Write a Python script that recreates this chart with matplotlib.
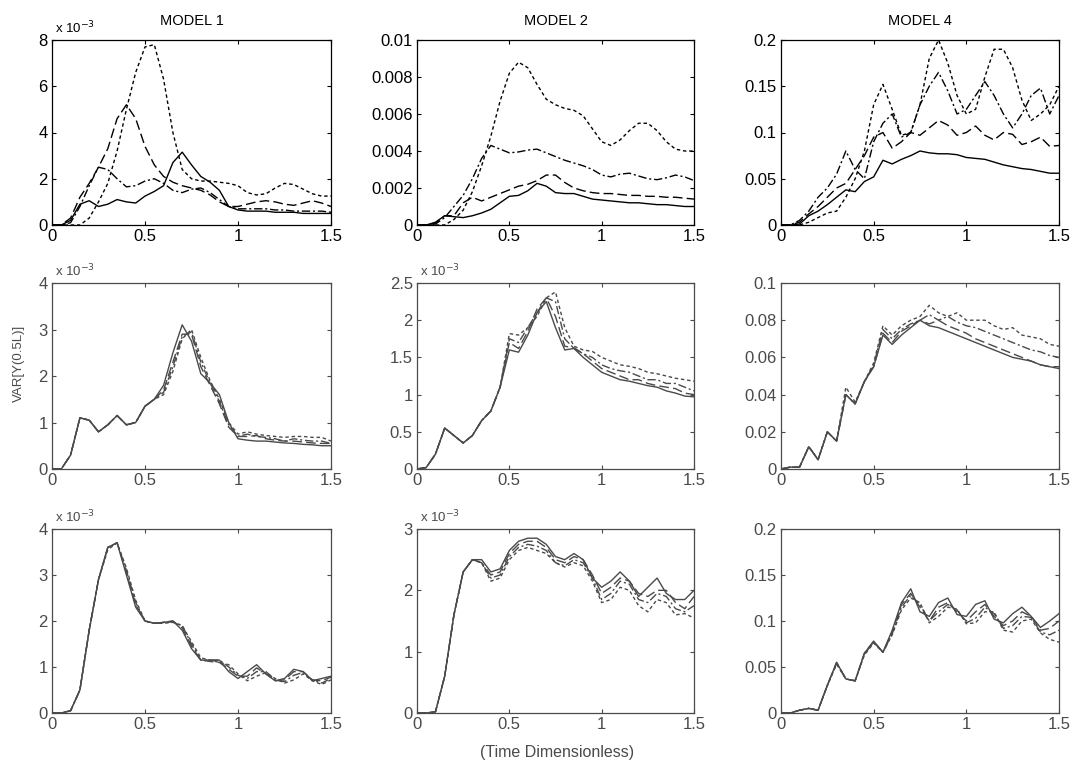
import matplotlib
matplotlib.use("Agg")
import matplotlib.pyplot as plt
from matplotlib.ticker import FixedLocator

plt.rcParams['font.family'] = ['Liberation Sans', 'DejaVu Sans']

# sample times (dimensionless)
T = [0.00, 0.05, 0.10, 0.15, 0.20, 0.25, 0.30, 0.35, 0.40, 0.45, 0.50,
     0.55, 0.60, 0.65, 0.70, 0.75, 0.80, 0.85, 0.90, 0.95, 1.00,
     1.05, 1.10, 1.15, 1.20, 1.25, 1.30, 1.35, 1.40, 1.45, 1.50]

# ---- top row (x 1e-3 for MODEL 1 and MODEL 2) ----
m1_top_solid = [0, 0, 0.2, 0.9, 1.05, 0.8, 0.9, 1.1, 1.0, 0.95, 1.25,
                1.45, 1.7, 2.7, 3.15, 2.6, 2.1, 1.85, 1.5, 0.8, 0.65,
                0.6, 0.6, 0.6, 0.55, 0.55, 0.55, 0.5, 0.5, 0.5, 0.5]
m1_top_dash = [0, 0, 0.3, 1.2, 1.8, 2.5, 3.3, 4.6, 5.2, 4.6, 3.4,
               2.6, 2.1, 1.85, 1.7, 1.6, 1.5, 1.3, 1.0, 0.8, 0.8,
               0.9, 1.0, 1.05, 1.0, 0.9, 0.85, 0.95, 1.05, 0.95, 0.8]
m1_top_dashdot = [0, 0, 0.1, 0.8, 1.7, 2.5, 2.4, 2.0, 1.65, 1.7, 1.9,
                  2.0, 1.8, 1.5, 1.4, 1.55, 1.6, 1.4, 1.1, 0.8, 0.7,
                  0.7, 0.7, 0.7, 0.65, 0.65, 0.6, 0.6, 0.6, 0.6, 0.55]
m1_top_dot = [0, 0, 0, 0, 0.3, 1.0, 1.8, 3.2, 5.0, 6.6, 7.7,
              7.8, 6.3, 4.0, 2.4, 2.0, 1.9, 1.9, 1.85, 1.8, 1.7,
              1.4, 1.3, 1.35, 1.6, 1.8, 1.75, 1.55, 1.35, 1.25, 1.25]

m2_top_solid = [0, 0, 0.15, 0.5, 0.45, 0.4, 0.5, 0.65, 0.85, 1.2, 1.55,
                1.6, 1.85, 2.25, 2.1, 1.75, 1.7, 1.7, 1.55, 1.4, 1.35,
                1.3, 1.25, 1.2, 1.2, 1.15, 1.1, 1.1, 1.05, 1.0, 1.0]
m2_top_dash = [0, 0, 0.1, 0.5, 0.5, 1.2, 1.5, 1.3, 1.5, 1.7, 1.9,
               2.1, 2.2, 2.4, 2.7, 2.7, 2.3, 2.0, 1.85, 1.75, 1.7,
               1.7, 1.65, 1.6, 1.6, 1.55, 1.55, 1.5, 1.5, 1.45, 1.4]
m2_top_dashdot = [0, 0, 0.05, 0.4, 1.0, 1.6, 2.5, 3.6, 4.3, 4.1, 3.9,
                  3.95, 4.05, 4.1, 3.9, 3.7, 3.5, 3.35, 3.2, 3.0, 2.7,
                  2.6, 2.75, 2.8, 2.65, 2.5, 2.45, 2.55, 2.7, 2.6, 2.4]
m2_top_dot = [0, 0, 0, 0, 0.3, 0.8, 1.8, 3.2, 4.8, 6.7, 8.2,
              8.8, 8.5, 7.6, 6.8, 6.5, 6.3, 6.2, 5.9, 5.2, 4.5,
              4.3, 4.6, 5.1, 5.5, 5.5, 5.1, 4.5, 4.1, 4.0, 4.0]

m4_top_solid = [0, 0, 0.001, 0.01, 0.015, 0.022, 0.03, 0.038, 0.036, 0.047, 0.052,
                0.07, 0.066, 0.071, 0.075, 0.08, 0.078, 0.077, 0.077, 0.076, 0.073,
                0.072, 0.071, 0.068, 0.065, 0.063, 0.061, 0.06, 0.058, 0.056, 0.056]
m4_top_dash = [0, 0, 0.003, 0.012, 0.02, 0.03, 0.04, 0.045, 0.06, 0.075, 0.095,
               0.1, 0.083, 0.09, 0.1, 0.097, 0.105, 0.113, 0.108, 0.097, 0.1,
               0.107, 0.097, 0.092, 0.1, 0.098, 0.087, 0.09, 0.095, 0.085, 0.086]
m4_top_dashdot = [0, 0, 0.005, 0.015, 0.03, 0.04, 0.055, 0.08, 0.06, 0.05, 0.09,
                  0.11, 0.12, 0.095, 0.1, 0.13, 0.15, 0.165, 0.145, 0.12, 0.125,
                  0.14, 0.155, 0.14, 0.12, 0.105, 0.12, 0.14, 0.148, 0.12, 0.14]
m4_top_dot = [0, 0, 0, 0.003, 0.008, 0.013, 0.015, 0.03, 0.05, 0.08, 0.13,
              0.152, 0.125, 0.097, 0.1, 0.13, 0.18, 0.2, 0.175, 0.14, 0.12,
              0.125, 0.16, 0.19, 0.19, 0.17, 0.135, 0.113, 0.12, 0.13, 0.15]

# ---- middle row ----
m1_mid_solid = [0, 0, 0.3, 1.1, 1.05, 0.8, 0.95, 1.15, 0.95, 1.0, 1.35,
                1.5, 1.8, 2.5, 3.1, 2.75, 2.05, 1.85, 1.6, 1.0, 0.65,
                0.62, 0.6, 0.6, 0.58, 0.56, 0.55, 0.53, 0.52, 0.5, 0.5]
m1_mid_dash = [0, 0, 0.3, 1.1, 1.05, 0.8, 0.95, 1.15, 0.95, 1.0, 1.35,
               1.5, 1.7, 2.3, 2.9, 2.9, 2.2, 1.8, 1.4, 0.9, 0.7,
               0.7, 0.72, 0.65, 0.62, 0.6, 0.6, 0.58, 0.56, 0.55, 0.55]
m1_mid_dashdot = [0, 0, 0.3, 1.1, 1.05, 0.8, 0.95, 1.15, 0.95, 1.0, 1.35,
                  1.5, 1.65, 2.2, 2.85, 2.95, 2.3, 1.85, 1.45, 0.95, 0.7,
                  0.75, 0.7, 0.68, 0.65, 0.6, 0.65, 0.62, 0.6, 0.6, 0.55]
m1_mid_dot = [0, 0, 0.3, 1.1, 1.05, 0.8, 0.95, 1.15, 0.95, 1.0, 1.35,
              1.5, 1.6, 2.1, 2.8, 3.0, 2.4, 1.9, 1.5, 1.0, 0.75,
              0.8, 0.75, 0.72, 0.7, 0.68, 0.7, 0.7, 0.68, 0.68, 0.6]

m2_mid_solid = [0, 0.02, 0.2, 0.55, 0.45, 0.35, 0.45, 0.65, 0.78, 1.1, 1.6,
                1.57, 1.8, 2.1, 2.25, 1.9, 1.6, 1.62, 1.5, 1.4, 1.3,
                1.25, 1.2, 1.18, 1.15, 1.12, 1.1, 1.05, 1.02, 0.98, 0.97]
m2_mid_dash = [0, 0.02, 0.2, 0.55, 0.45, 0.35, 0.45, 0.65, 0.78, 1.1, 1.7,
               1.62, 1.85, 2.15, 2.3, 2.05, 1.65, 1.63, 1.55, 1.45, 1.35,
               1.3, 1.25, 1.2, 1.2, 1.15, 1.12, 1.1, 1.08, 1.02, 1.0]
m2_mid_dashdot = [0, 0.02, 0.2, 0.55, 0.45, 0.35, 0.45, 0.65, 0.78, 1.1, 1.75,
                  1.7, 1.9, 2.1, 2.3, 2.25, 1.75, 1.62, 1.55, 1.5, 1.4,
                  1.35, 1.32, 1.3, 1.25, 1.2, 1.2, 1.15, 1.15, 1.1, 1.05]
m2_mid_dot = [0, 0.02, 0.2, 0.55, 0.45, 0.35, 0.45, 0.65, 0.78, 1.1, 1.82,
              1.8, 1.9, 2.05, 2.3, 2.38, 1.9, 1.65, 1.6, 1.58, 1.5,
              1.45, 1.4, 1.38, 1.35, 1.3, 1.28, 1.25, 1.22, 1.2, 1.18]

m4_mid_solid = [0, 0.001, 0.001, 0.012, 0.005, 0.02, 0.015, 0.04, 0.035, 0.047, 0.055,
                0.072, 0.067, 0.072, 0.076, 0.08, 0.077, 0.076, 0.074, 0.072, 0.07,
                0.068, 0.066, 0.064, 0.062, 0.06, 0.059, 0.058, 0.056, 0.055, 0.054]
m4_mid_dash = [0, 0.001, 0.001, 0.012, 0.005, 0.02, 0.015, 0.04, 0.035, 0.047, 0.055,
               0.073, 0.068, 0.074, 0.077, 0.08, 0.078, 0.08, 0.077, 0.075, 0.073,
               0.07, 0.068, 0.066, 0.064, 0.062, 0.06, 0.058, 0.056, 0.055, 0.055]
m4_mid_dashdot = [0, 0.001, 0.001, 0.012, 0.005, 0.02, 0.015, 0.04, 0.035, 0.047, 0.056,
                  0.075, 0.07, 0.075, 0.078, 0.08, 0.083, 0.08, 0.082, 0.079, 0.077,
                  0.076, 0.074, 0.072, 0.07, 0.068, 0.066, 0.064, 0.063, 0.061, 0.06]
m4_mid_dot = [0, 0.001, 0.001, 0.012, 0.005, 0.02, 0.015, 0.044, 0.036, 0.047, 0.057,
              0.077, 0.072, 0.077, 0.08, 0.082, 0.088, 0.084, 0.082, 0.084, 0.08,
              0.08, 0.08, 0.077, 0.075, 0.076, 0.072, 0.071, 0.07, 0.067, 0.066]

# ---- bottom row ----
m1_bot_solid = [0, 0, 0.05, 0.5, 1.8, 2.9, 3.6, 3.7, 3.0, 2.3, 2.0,
                1.95, 1.97, 2.0, 1.8, 1.4, 1.15, 1.15, 1.15, 0.9, 0.75,
                0.9, 1.05, 0.85, 0.7, 0.75, 0.95, 0.9, 0.7, 0.75, 0.8]
m1_bot_dash = [0, 0, 0.05, 0.5, 1.8, 2.9, 3.6, 3.7, 3.05, 2.35, 2.0,
               1.95, 1.97, 2.0, 1.85, 1.45, 1.15, 1.12, 1.1, 0.95, 0.8,
               0.8, 0.98, 0.85, 0.7, 0.72, 0.9, 0.9, 0.72, 0.7, 0.78]
m1_bot_dashdot = [0, 0, 0.05, 0.5, 1.8, 2.9, 3.6, 3.7, 3.1, 2.4, 2.0,
                  1.95, 1.97, 1.98, 1.9, 1.5, 1.15, 1.15, 1.15, 1.0, 0.82,
                  0.75, 0.9, 0.9, 0.72, 0.68, 0.82, 0.88, 0.72, 0.65, 0.75]
m1_bot_dot = [0, 0, 0.05, 0.5, 1.8, 2.9, 3.55, 3.7, 3.15, 2.45, 2.0,
              1.95, 1.95, 1.97, 1.9, 1.55, 1.2, 1.15, 1.1, 1.05, 0.85,
              0.7, 0.8, 0.88, 0.75, 0.65, 0.72, 0.85, 0.7, 0.62, 0.72]

m2_bot_solid = [0, 0, 0.02, 0.6, 1.6, 2.3, 2.5, 2.5, 2.3, 2.35, 2.65,
                2.8, 2.85, 2.85, 2.75, 2.55, 2.5, 2.6, 2.5, 2.2, 2.05,
                2.15, 2.3, 2.15, 1.9, 2.05, 2.2, 1.95, 1.85, 1.85, 2.0]
m2_bot_dash = [0, 0, 0.02, 0.6, 1.6, 2.3, 2.5, 2.45, 2.25, 2.3, 2.6,
               2.75, 2.8, 2.8, 2.7, 2.5, 2.45, 2.55, 2.5, 2.25, 1.95,
               2.05, 2.2, 2.15, 1.95, 1.9, 2.0, 2.0, 1.8, 1.7, 1.9]
m2_bot_dashdot = [0, 0, 0.02, 0.6, 1.6, 2.3, 2.5, 2.45, 2.2, 2.25, 2.55,
                  2.7, 2.75, 2.72, 2.65, 2.45, 2.4, 2.5, 2.45, 2.2, 1.85,
                  1.95, 2.15, 2.1, 1.85, 1.8, 1.95, 1.9, 1.7, 1.65, 1.75]
m2_bot_dot = [0, 0, 0.02, 0.6, 1.6, 2.3, 2.5, 2.45, 2.15, 2.2, 2.5,
              2.65, 2.7, 2.65, 2.6, 2.45, 2.38, 2.45, 2.4, 2.15, 1.8,
              1.85, 2.05, 2.0, 1.75, 1.65, 1.85, 1.8, 1.6, 1.62, 1.55]

m4_bot_solid = [0, 0, 0.003, 0.005, 0.003, 0.03, 0.055, 0.037, 0.035, 0.065, 0.078,
                0.066, 0.09, 0.12, 0.135, 0.11, 0.105, 0.12, 0.125, 0.107, 0.105,
                0.118, 0.122, 0.102, 0.098, 0.108, 0.115, 0.105, 0.093, 0.1, 0.108]
m4_bot_dash = [0, 0, 0.003, 0.005, 0.003, 0.03, 0.055, 0.037, 0.035, 0.065, 0.078,
               0.066, 0.088, 0.118, 0.13, 0.115, 0.1, 0.115, 0.12, 0.11, 0.1,
               0.11, 0.118, 0.105, 0.095, 0.1, 0.11, 0.105, 0.09, 0.092, 0.1]
m4_bot_dashdot = [0, 0, 0.003, 0.005, 0.003, 0.03, 0.054, 0.037, 0.035, 0.064, 0.077,
                  0.066, 0.086, 0.115, 0.128, 0.118, 0.1, 0.11, 0.118, 0.112, 0.098,
                  0.103, 0.115, 0.108, 0.092, 0.095, 0.105, 0.104, 0.088, 0.085, 0.09]
m4_bot_dot = [0, 0, 0.003, 0.005, 0.003, 0.03, 0.053, 0.037, 0.035, 0.063, 0.076,
              0.066, 0.085, 0.112, 0.125, 0.12, 0.098, 0.105, 0.115, 0.113, 0.097,
              0.098, 0.11, 0.11, 0.09, 0.088, 0.1, 0.102, 0.087, 0.08, 0.077]

titles = ["MODEL 1", "MODEL 2", "MODEL 4"]
x_ticks = [0, 0.5, 1, 1.5]
x_ticklabels = ["0", "0.5", "1", "1.5"]

panels = [
    # row, col, series, y ticks, y tick labels, value scale, show "x 10^-3"
    (0, 0, [m1_top_solid, m1_top_dash, m1_top_dashdot, m1_top_dot],
     [0, 2, 4, 6, 8], ["0", "2", "4", "6", "8"], 1.0, True),
    (0, 1, [m2_top_solid, m2_top_dash, m2_top_dashdot, m2_top_dot],
     [0, 0.002, 0.004, 0.006, 0.008, 0.01],
     ["0", "0.002", "0.004", "0.006", "0.008", "0.01"], 1e-3, False),
    (0, 2, [m4_top_solid, m4_top_dash, m4_top_dashdot, m4_top_dot],
     [0, 0.05, 0.1, 0.15, 0.2], ["0", "0.05", "0.1", "0.15", "0.2"], 1.0, False),
    (1, 0, [m1_mid_solid, m1_mid_dash, m1_mid_dashdot, m1_mid_dot],
     [0, 1, 2, 3, 4], ["0", "1", "2", "3", "4"], 1.0, True),
    (1, 1, [m2_mid_solid, m2_mid_dash, m2_mid_dashdot, m2_mid_dot],
     [0, 0.5, 1, 1.5, 2, 2.5], ["0", "0.5", "1", "1.5", "2", "2.5"], 1.0, True),
    (1, 2, [m4_mid_solid, m4_mid_dash, m4_mid_dashdot, m4_mid_dot],
     [0, 0.02, 0.04, 0.06, 0.08, 0.1],
     ["0", "0.02", "0.04", "0.06", "0.08", "0.1"], 1.0, False),
    (2, 0, [m1_bot_solid, m1_bot_dash, m1_bot_dashdot, m1_bot_dot],
     [0, 1, 2, 3, 4], ["0", "1", "2", "3", "4"], 1.0, True),
    (2, 1, [m2_bot_solid, m2_bot_dash, m2_bot_dashdot, m2_bot_dot],
     [0, 1, 2, 3], ["0", "1", "2", "3"], 1.0, True),
    (2, 2, [m4_bot_solid, m4_bot_dash, m4_bot_dashdot, m4_bot_dot],
     [0, 0.05, 0.1, 0.15, 0.2], ["0", "0.05", "0.1", "0.15", "0.2"], 1.0, False),
]

line_styles = ["-", (0, (7, 3)), (0, (6, 2, 1.5, 2)), (0, (2.5, 2))]

W, H = 1071, 761
fig = plt.figure(figsize=(W / 100, H / 100), dpi=100)

col_left = [52, 417, 781]
col_width = [279, 277, 278]
row_top = [40, 283, 529]
row_height = [185, 186, 184]
gray = "#4a4a4a"

for row, col, series, yt, ytl, scale, show_exp in panels:
    left = col_left[col] / W
    bottom = 1 - (row_top[row] + row_height[row]) / H
    ax = fig.add_axes([left, bottom, col_width[col] / W, row_height[row] / H])
    color = "black" if row == 0 else gray
    for vals, ls in zip(series, line_styles):
        ax.plot(T, [v * scale for v in vals], color=color, lw=1.0, linestyle=ls)
    ax.set_xlim(0, 1.5)
    ax.set_ylim(yt[0], yt[-1])
    ax.xaxis.set_major_locator(FixedLocator(x_ticks))
    ax.set_xticklabels(x_ticklabels)
    ax.yaxis.set_major_locator(FixedLocator(yt))
    ax.set_yticklabels(ytl)
    ax.tick_params(direction="in", top=True, right=True, length=3, width=0.8,
                   labelsize=12, colors=color, pad=3)
    for sp in ax.spines.values():
        sp.set_color(color)
        sp.set_linewidth(0.9)
    if show_exp:
        ax.text(0.01, 1.02, r"x 10$^{-3}$", transform=ax.transAxes,
                fontsize=9.5, color=color, ha="left", va="bottom")
    if row == 0:
        ax.set_title(titles[col], fontsize=10.5, pad=11)

# shared axis labels
fig.text(19 / W, 1 - 363 / H, "VAR[Y(0.5L)]", rotation=90, fontsize=9.5,
         color=gray, ha="center", va="center")
fig.text(557 / W, 1 - 752 / H, "(Time Dimensionless)", fontsize=11.5,
         color=gray, ha="center", va="center")

fig.savefig("out.png", dpi=100)
